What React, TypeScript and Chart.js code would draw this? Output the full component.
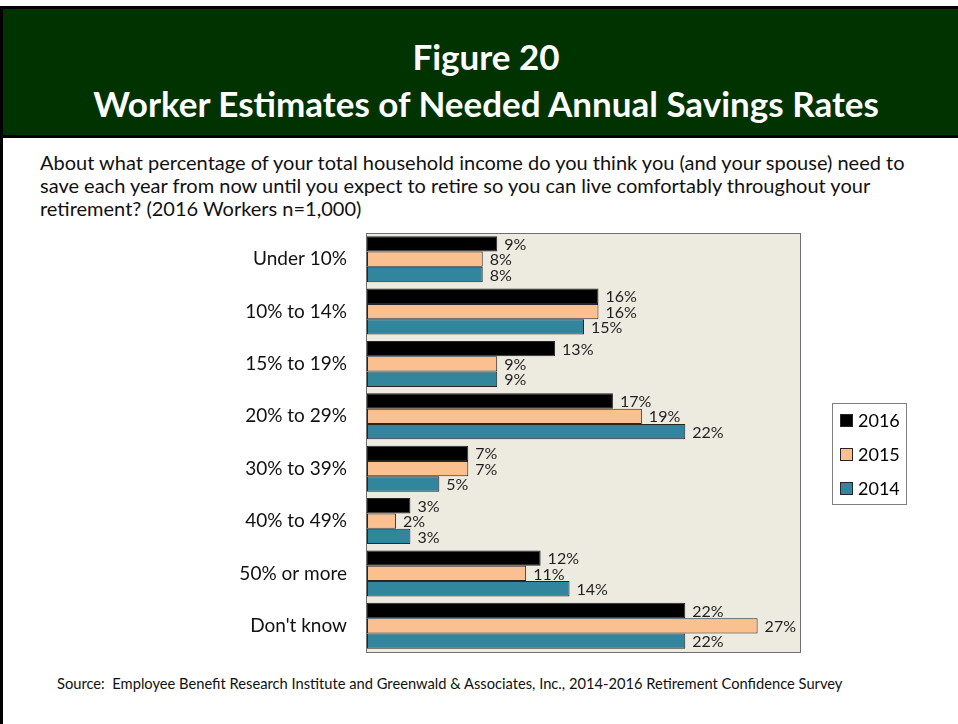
import React, { useEffect, useRef } from "react";
import { Chart, registerables } from "chart.js";

Chart.register(...registerables);

const categories = [
  "Under 10%",
  "10% to 14%",
  "15% to 19%",
  "20% to 29%",
  "30% to 39%",
  "40% to 49%",
  "50% or more",
  "Don't know",
];
const seriesNames = ["2016", "2015", "2014"];
const values2016 = [9, 16, 13, 17, 7, 3, 12, 22];
const values2015 = [8, 16, 9, 19, 7, 2, 11, 27];
const values2014 = [8, 15, 9, 22, 5, 3, 14, 22];
const seriesColors = ["#000000", "#FAC090", "#31859C"];
const xMax = 30;

const FONT = "Lato, 'Open Sans', sans-serif";

const plotBgPlugin = {
  id: "plotBg",
  beforeDraw(chart: any) {
    const { ctx, chartArea } = chart;
    ctx.save();
    ctx.fillStyle = "#EDEAE0";
    ctx.fillRect(chartArea.left, chartArea.top, chartArea.right - chartArea.left, chartArea.bottom - chartArea.top);
    ctx.restore();
  },
  afterDraw(chart: any) {
    const { ctx, chartArea } = chart;
    ctx.save();
    ctx.strokeStyle = "#6f6f6f";
    ctx.lineWidth = 1;
    ctx.strokeRect(
      Math.round(chartArea.left) - 0.5,
      Math.round(chartArea.top) + 0.5,
      Math.round(chartArea.right - chartArea.left),
      Math.round(chartArea.bottom - chartArea.top)
    );
    ctx.restore();
  },
};

const valueLabelPlugin = {
  id: "valueLabels",
  afterDatasetsDraw(chart: any) {
    const { ctx } = chart;
    ctx.save();
    ctx.font = `16px ${FONT}`;
    ctx.fillStyle = "#1f1f1f";
    ctx.textAlign = "left";
    ctx.textBaseline = "middle";
    chart.data.datasets.forEach((ds: any, di: number) => {
      const meta = chart.getDatasetMeta(di);
      meta.data.forEach((bar: any, i: number) => {
        ctx.fillText(`${ds.data[i]}%`, bar.x + 7, bar.y + 1);
      });
    });
    ctx.restore();
  },
};

const boxLegendPlugin = {
  id: "boxLegend",
  afterDraw(chart: any) {
    const { ctx, chartArea } = chart;
    const left = chartArea.right + 31;
    const top = chartArea.top + 170;
    const w = 74;
    const h = 101;
    ctx.save();
    ctx.fillStyle = "#ffffff";
    ctx.fillRect(left, top, w, h);
    ctx.strokeStyle = "#808080";
    ctx.lineWidth = 1;
    ctx.strokeRect(Math.round(left) + 0.5, Math.round(top) + 0.5, w, h);
    ctx.font = `18px ${FONT}`;
    ctx.textBaseline = "middle";
    ctx.textAlign = "left";
    chart.data.datasets.forEach((ds: any, i: number) => {
      const cy = top + 17 + i * 34;
      ctx.fillStyle = ds.backgroundColor;
      ctx.fillRect(left + 8, cy - 6, 12, 12);
      ctx.strokeStyle = "#262626";
      ctx.strokeRect(Math.round(left + 8) + 0.5, Math.round(cy - 6) + 0.5, 12, 12);
      ctx.fillStyle = "#000000";
      ctx.fillText(ds.label, left + 26, cy + 1);
    });
    ctx.restore();
  },
};

function SavingsChart() {
  const canvasRef = useRef<HTMLCanvasElement | null>(null);

  useEffect(() => {
    if (!canvasRef.current) return;
    const seriesValues = [values2016, values2015, values2014];
    const chart = new Chart(canvasRef.current, {
      type: "bar",
      data: {
        labels: categories,
        datasets: seriesNames.map((name, i) => ({
          label: name,
          data: seriesValues[i],
          backgroundColor: seriesColors[i],
          borderColor: "#262626",
          borderWidth: 1,
          borderSkipped: false,
          categoryPercentage: 0.88,
          barPercentage: 1.0,
        })),
      },
      options: {
        indexAxis: "y",
        animation: false,
        responsive: true,
        maintainAspectRatio: false,
        layout: { padding: { top: 8, right: 157, bottom: 13, left: 0 } },
        plugins: {
          legend: { display: false },
          tooltip: { enabled: false },
          title: { display: false },
        },
        scales: {
          x: {
            min: 0,
            max: xMax,
            display: false,
            grid: { display: false },
          },
          y: {
            grid: { display: false, drawTicks: false },
            border: { display: false },
            ticks: {
              padding: 20,
              color: "#111111",
              font: { family: FONT, size: 19 },
            },
            afterFit(scale: any) {
              scale.width = 367;
              scale.paddingTop = 0;
              scale.paddingBottom = 0;
            },
          },
        },
      } as any,
      plugins: [plotBgPlugin, valueLabelPlugin, boxLegendPlugin],
    });
    return () => chart.destroy();
  }, []);

  return (
    <div style={{ position: "absolute", left: 0, top: 225, width: 958, height: 440 }}>
      <canvas ref={canvasRef} />
    </div>
  );
}

export default function App() {
  return (
    <div
      style={{
        position: "absolute",
        left: 0,
        top: 0,
        width: 958,
        height: 724,
        background: "#ffffff",
        overflow: "hidden",
        fontFamily: FONT,
      }}
    >
      <div
        style={{
          position: "absolute",
          left: 0,
          top: 6,
          width: 958,
          height: 132,
          boxSizing: "border-box",
          background: "#003300",
          borderTop: "3px solid #000",
          borderBottom: "3px solid #000",
          borderLeft: "3px solid #000",
        }}
      />
      <div
        style={{
          position: "absolute",
          left: 0,
          top: 33,
          width: 972,
          textAlign: "center",
          color: "#ffffff",
          fontWeight: 700,
          fontSize: 35,
          lineHeight: "47px",
          whiteSpace: "nowrap",
        }}
      >
        Figure 20
        <br />
        Worker Estimates of Needed Annual Savings Rates
      </div>
      <div style={{ position: "absolute", left: 0, top: 138, width: 3, height: 586, background: "#000" }} />
      <div
        style={{
          position: "absolute",
          left: 40,
          top: 150.5,
          width: 910,
          color: "#111111",
          fontSize: 20,
          lineHeight: "23.3px",
          whiteSpace: "nowrap",
        }}
      >
        About what percentage of your total household income do you think you (and your spouse) need to
        <br />
        save each year from now until you expect to retire so you can live comfortably throughout your
        <br />
        retirement? (2016 Workers n=1,000)
      </div>
      <SavingsChart />
      <div
        style={{
          position: "absolute",
          left: 57,
          top: 674,
          color: "#111111",
          fontSize: 14.7,
          lineHeight: "18px",
          whiteSpace: "nowrap",
        }}
      >
        Source:&nbsp; Employee Benefit Research Institute and Greenwald &amp; Associates, Inc., 2014-2016 Retirement Confidence Survey
      </div>
    </div>
  );
}
